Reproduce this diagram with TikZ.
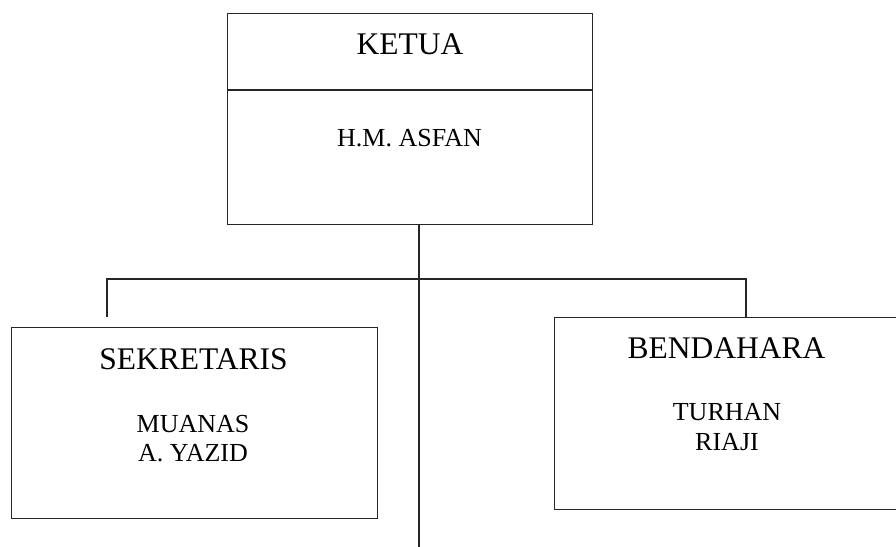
\documentclass[tikz,border=0pt]{standalone}
\usepackage{fontspec}
\setmainfont{Liberation Serif}
\begin{document}
\begin{tikzpicture}[x=1pt,y=-1pt,
  orgbox/.style={draw=black!85, line width=1.3pt, inner sep=0pt, anchor=north west},
  headtext/.style={anchor=base, inner sep=0pt, font=\fontsize{31.5}{36}\selectfont},
  persontext/.style={anchor=base, inner sep=0pt, font=\fontsize{26}{30}\selectfont},
  link/.style={draw=black!85, line width=1.3pt}]
\useasboundingbox (0,0) rectangle (896,546);
\clip (0,0) rectangle (896,546);
% boxes
\node[orgbox, minimum width=365pt, minimum height=211pt] (ketua) at (227,13) {};
\node[orgbox, minimum width=366pt, minimum height=191pt] (sek) at (11,327) {};
\node[orgbox, minimum width=345pt, minimum height=192pt] (ben) at (554,317) {};
\coordinate (kdl) at (227,90);
\coordinate (kdr) at (592,90);
\draw[link] (kdl) -- (kdr);
% texts
\node[headtext] (tketua) at (410,54) {KETUA};
\node[persontext] (nketua) at (409.5,146.5) {H.M. ASFAN};
\node[headtext] (tsek) at (193.5,369) {SEKRETARIS};
\node[persontext] (nsek1) at (193,432.5) {MUANAS};
\node[persontext] (nsek2) at (193,461.5) {A. YAZID};
\node[headtext] (tben) at (726.5,358) {BENDAHARA};
\node[persontext] (nben1) at (727,420) {TURHAN};
\node[persontext] (nben2) at (727,450.5) {RIAJI};
% connectors
\coordinate (tb) at (419,548);
\coordinate (hl) at (107,279);
\coordinate (hr) at (746,279);
\coordinate (ld) at (107,317);
\draw[link] (tb |- ketua.south) -- (tb);
\draw[link] (ld) -- (hl) -- (hr) -- (hr |- ben.north);
\end{tikzpicture}
\end{document}
